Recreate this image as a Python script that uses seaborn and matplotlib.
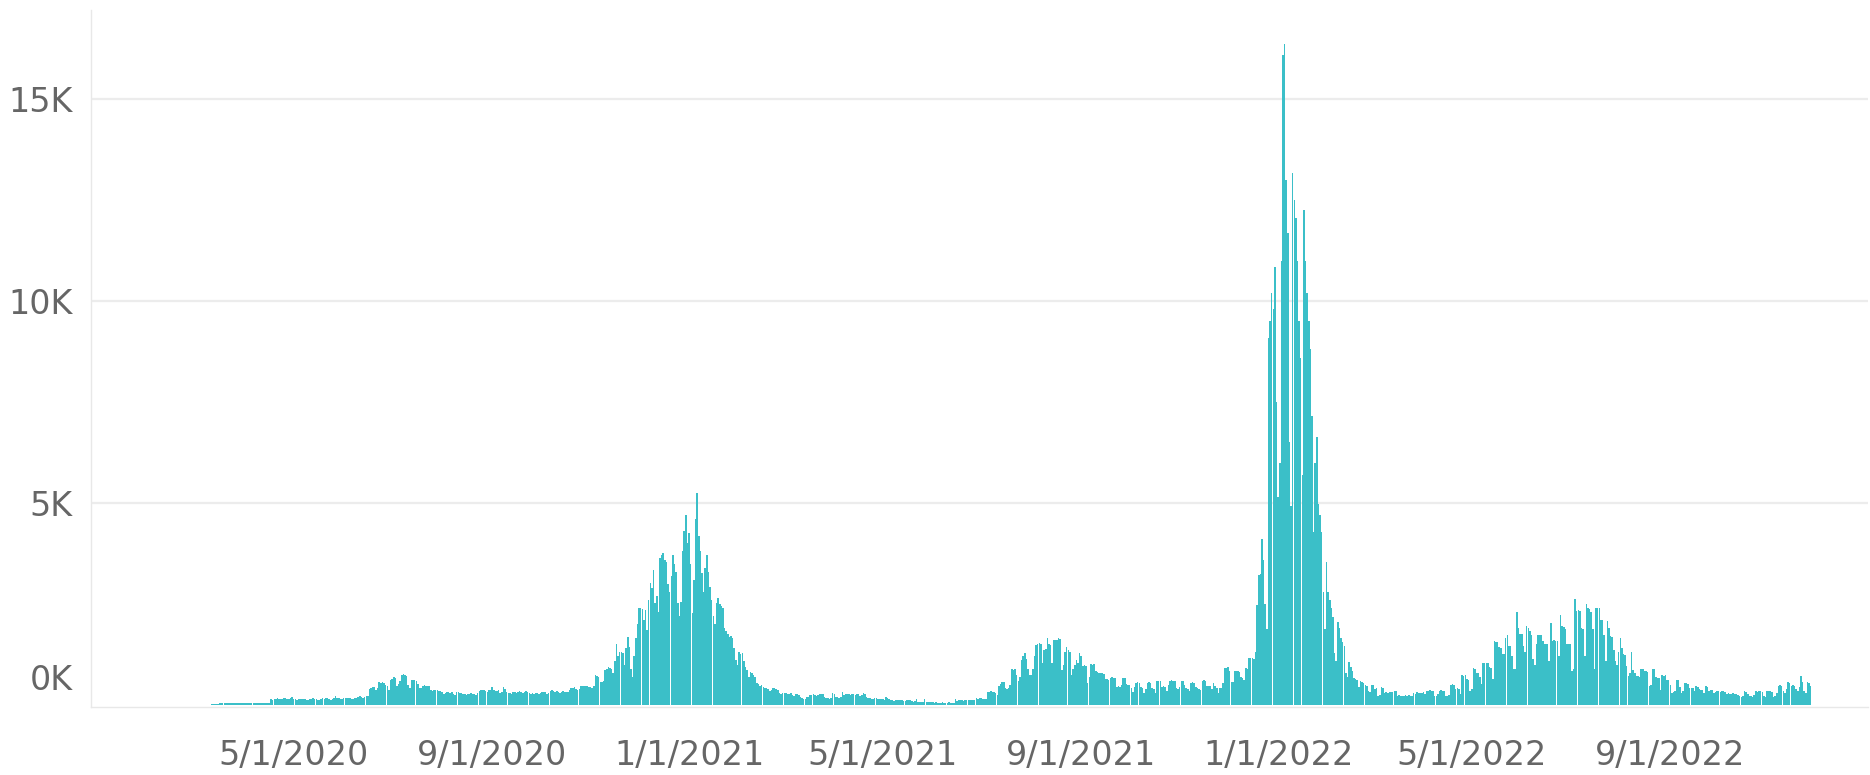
import seaborn as sns
import numpy as np
import matplotlib.pyplot as plt
import pandas as pd
from matplotlib.transforms import ScaledTranslation

# daily cases
mar20 = [20, 25, 30, 35, 30, 40, 45, 40, 50, 45, 40, 50, 55, 50, 45, 55, 50, 45, 50, 55, 50]
apr20 = [50, 55, 50, 45, 50, 55, 50, 50, 45, 55, 50, 55, 50, 45, 50, 60, 150, 130, 160, 150, 170, 160, 150, 140, 175, 165, 160, 150, 170, 200]
may20 = [150, 140, 120, 150, 160, 155, 150, 160, 130, 120, 150, 155, 165, 150, 160, 130, 120, 160, 170, 150, 165, 170, 140, 120, 150, 170, 220, 180, 175, 150, 140]
jun20 = [170, 180, 175, 165, 180, 150, 140, 175, 180, 200, 210, 195, 170, 190, 210, 220, 400, 420, 450, 440, 380, 410, 560, 550, 570, 540, 500, 480, 370, 620]
jul20 = [650, 700, 680, 460, 520, 600, 740, 760, 750, 720, 500, 420, 620, 630, 610, 600, 520, 430, 420, 480, 490, 470, 480, 460, 380, 350, 370, 360, 380, 350, 340]
aug20 = [310, 280, 300, 330, 320, 300, 310, 260, 250, 330, 320, 300, 290, 280, 260, 250, 270, 280, 290, 270, 260, 250, 300, 340, 360, 380, 370, 350, 330, 360, 380]
sep20 = [440, 380, 350, 340, 360, 300, 320, 440, 400, 310, 300, 290, 280, 320, 310, 300, 330, 340, 320, 300, 330, 350, 320, 290, 280, 300, 270, 290, 300, 280]
oct20 = [300, 330, 320, 310, 280, 290, 350, 360, 340, 330, 350, 320, 300, 330, 340, 330, 320, 310, 360, 420, 430, 440, 400, 380, 390, 460, 470, 480, 460, 470, 440]
nov20 = [450, 430, 460, 740, 720, 700, 580, 560, 600, 870, 900, 950, 920, 880, 780, 1100, 1510, 1200, 1300, 1320, 1280, 1000, 1400, 1690, 1440, 900, 685, 1200, 1650, 2000]
dec20 = [2390, 2400, 2380, 2100, 2350, 1860, 2600, 3010, 2900, 3340, 2530, 2700, 2300, 3630, 3700, 3750, 3600, 3550, 3000, 2800, 3200, 3700, 3500, 3300, 2520, 2200, 2560, 3800, 4300, 4700, 4000]
jan21 = [4250, 3500, 2270, 3090, 4600, 5250, 4170, 3800, 3260, 2800, 3400, 3710, 3300, 2930, 2600, 2200, 2000, 2520, 2660, 2500, 2450, 2390, 1900, 1840, 1750, 1690, 1700, 1650, 1400, 1110, 1000]
feb21 = [1320, 1250, 1280, 1100, 950, 870, 700, 820, 780, 740, 700, 540, 520, 480, 500, 450, 410, 420, 400, 350, 380, 410, 420, 400, 380, 290, 280, 300]
mar21 = [290, 300, 280, 260, 290, 250, 230, 260, 270, 250, 200, 180, 140, 160, 190, 200, 250, 240, 260, 250, 230, 240, 270, 260, 280, 200, 170, 165, 160, 170, 290]
apr21 = [280, 200, 190, 180, 200, 330, 250, 270, 260, 270, 240, 260, 270, 250, 270, 260, 230, 240, 290, 280, 200, 170, 165, 160, 150, 165, 170, 160, 140, 150]
may21 = [140, 120, 190, 180, 150, 125, 120, 110, 125, 130, 120, 125, 115, 100, 110, 125, 130, 120, 110, 80, 90, 150, 80, 75, 80, 85, 150, 70, 65, 80, 85]
jun21 = [70, 60, 65, 60, 55, 60, 65, 60, 55, 60, 65, 55, 50, 60, 140, 90, 125, 120, 130, 110, 125, 130, 120, 125, 115, 130, 125, 165, 160, 170]
jul21 = [170, 160, 140, 150, 330, 320, 340, 330, 310, 300, 250, 470, 520, 580, 560, 410, 400, 420, 500, 880, 860, 890, 740, 600, 700, 1110, 1200, 1280, 1150, 900, 740]
aug21 = [740, 900, 1200, 1490, 1500, 1530, 1520, 1030, 1360, 1380, 1650, 1500, 1490, 1030, 1600, 1610, 1620, 1650, 1640, 870, 1000, 1300, 1430, 1350, 1300, 740, 900, 1000, 1110, 1050, 1280]
sep21 = [1200, 970, 980, 960, 540, 700, 1010, 1000, 1010, 830, 820, 800, 780, 790, 770, 640, 650, 620, 680, 690, 670, 680, 450, 460, 440, 500, 680, 670, 520, 500]
oct21 = [500, 420, 330, 450, 550, 560, 540, 450, 410, 290, 400, 550, 560, 540, 410, 400, 300, 600, 590, 600, 450, 460, 440, 350, 500, 600, 610, 590, 600, 410, 400]
nov21 = [450, 600, 590, 500, 410, 400, 350, 550, 560, 540, 450, 410, 400, 380, 600, 610, 590, 480, 470, 460, 400, 540, 480, 410, 300, 420, 410, 540, 910, 920]
dec21 = [930, 830, 580, 560, 830, 840, 830, 820, 700, 680, 620, 910, 900, 1160, 1170, 1160, 1150, 1300, 2480, 3220, 3250, 4100, 3600, 2500, 1890, 9070, 9500, 10200, 9800, 10840, 7500]
jan22 = [5150, 5980, 11000, 16090, 16370, 13000, 11670, 6500, 4930, 13160, 12500, 12060, 11000, 9500, 8580, 5700, 12240, 11000, 10200, 9500, 8800, 7140, 4270, 6000, 6640, 4980, 4700, 4270, 2800, 1890, 3550]
feb22 = [2800, 2610, 2400, 2170, 1280, 1100, 2060, 1900, 1670, 1550, 1450, 780, 700, 1060, 950, 840, 670, 650, 620, 450, 600, 580, 550, 500, 480, 350, 330, 500]
mar22 = [500, 400, 410, 230, 250, 440, 430, 300, 310, 290, 330, 320, 330, 350, 340, 230, 240, 230, 220, 230, 250, 230, 240, 230, 220, 300, 280, 310, 300, 290, 300]
apr22 = [310, 280, 350, 340, 360, 350, 340, 230, 230, 260, 350, 360, 340, 350, 230, 220, 250, 500, 510, 490, 400, 410, 390, 270, 730, 720, 740, 640, 630, 350]
may22 = [400, 910, 900, 790, 800, 700, 520, 1040, 1050, 1030, 1040, 930, 920, 640, 1590, 1570, 1550, 1430, 1420, 1260, 1250, 1670, 1720, 1470, 1460, 1200, 890, 900, 2290, 1900, 1760]
jun22 = [1760, 1470, 1300, 1960, 1900, 1840, 1720, 1140, 1000, 1500, 1730, 1720, 1740, 1590, 1510, 1500, 1520, 1100, 2030, 1590, 1600, 1580, 1590, 1200, 2230, 1960, 1920, 1880, 1510, 1520]
jul22 = [1510, 850, 900, 2620, 2330, 2340, 2320, 1900, 1880, 1200, 2500, 2400, 2380, 2300, 1880, 890, 2400, 2410, 2390, 2110, 2100, 1740, 1080, 2070, 1900, 1700, 1690, 1370, 1080, 1000, 1300]
aug22 = [1660, 1400, 1250, 1240, 960, 710, 800, 1300, 870, 800, 710, 720, 700, 890, 880, 830, 840, 820, 460, 500, 890, 880, 700, 670, 660, 380, 730, 720, 740, 630, 620]
sep22 = [500, 300, 310, 350, 630, 620, 450, 300, 350, 540, 550, 530, 420, 430, 410, 350, 460, 450, 400, 380, 370, 300, 460, 450, 350, 380, 370, 300, 320, 340]
oct22 = [340, 330, 350, 340, 330, 280, 290, 270, 280, 290, 280, 270, 250, 210, 200, 220, 340, 330, 260, 210, 220, 200, 250, 340, 330, 350, 340, 330, 210, 200, 340]
nov22 = [340, 350, 330, 200, 210, 300, 480, 490, 470, 340, 300, 400, 560, 550, 480, 490, 470, 400, 340, 450, 710, 580, 340, 300, 560, 550, 480]

months = [('2020-03-11', mar20), ('2020-04-01', apr20), ('2020-05-01', may20), ('2020-06-01', jun20),
          ('2020-07-01', jul20), ('2020-08-01', aug20), ('2020-09-01', sep20), ('2020-10-01', oct20),
          ('2020-11-01', nov20), ('2020-12-01', dec20), ('2021-01-01', jan21), ('2021-02-01', feb21),
          ('2021-03-01', mar21), ('2021-04-01', apr21), ('2021-05-01', may21), ('2021-06-01', jun21),
          ('2021-07-01', jul21), ('2021-08-01', aug21), ('2021-09-01', sep21), ('2021-10-01', oct21),
          ('2021-11-01', nov21), ('2021-12-01', dec21), ('2022-01-01', jan22), ('2022-02-01', feb22),
          ('2022-03-01', mar22), ('2022-04-01', apr22), ('2022-05-01', may22), ('2022-06-01', jun22),
          ('2022-07-01', jul22), ('2022-08-01', aug22), ('2022-09-01', sep22), ('2022-10-01', oct22),
          ('2022-11-01', nov22)]

df = pd.concat([pd.DataFrame({'date': pd.date_range(s, periods=len(v), freq='D'), 'cases': v})
                for s, v in months], ignore_index=True)
assert df['date'].diff().dropna().eq(pd.Timedelta('1D')).all()

sns.set_style('white')
plt.rcParams['font.family'] = ['DejaVu Sans']
fig = plt.figure(figsize=(18.7, 7.75), dpi=100)
ax = fig.add_axes([91/1870, 1-707/775, (1868-91)/1870, (707-10)/775])

sns.histplot(data=df, x='date', weights='cases', discrete=True, shrink=0.95,
             color='#3bbfc8', alpha=1, linewidth=0, ax=ax)

ax.set_xlim(pd.Timestamp('2019-12-27 10:00'), pd.Timestamp('2023-01-01 12:00'))
ax.set_ylim(-50, 17200)

major = pd.date_range('2020-01-01', '2023-01-01', freq='4MS')
ax.set_xticks(major)
ax.set_xticklabels(['' if (d.month == 1 and d.year in (2020, 2023)) else f'{d.month}/{d.day}/{d.year}'
                    for d in major])
ax.set_xticks(pd.date_range('2020-01-01', '2023-01-01', freq='MS'), minor=True)

# tableau nudges the 0K label up off the baseline
ax.set_yticks([0, 5000, 10000, 15000])
ax.set_yticklabels(['', '5K', '10K', '15K'])
ax.text(0, 0, '0K', ha='right', va='center', fontsize=24, color='#666666',
        transform=ax.get_yaxis_transform() + ScaledTranslation(-13/72, 24/100, fig.dpi_scale_trans))

ax.grid(axis='y', color='#ececec', lw=1.6)
ax.yaxis.get_gridlines()[0].set_visible(False)
ax.set_axisbelow(True)

ax.tick_params(axis='y', length=0, pad=13, labelsize=24, labelcolor='#666666')
ax.tick_params(axis='x', which='major', length=8, width=1, color='#dddddd', pad=15,
               labelsize=24, labelcolor='#666666')
ax.tick_params(axis='x', which='minor', length=2.5, width=1, color='#e6e6e6')
for s in ['top', 'right']:
    ax.spines[s].set_visible(False)
for s in ['left', 'bottom']:
    ax.spines[s].set_color('#e8e8e8')
    ax.spines[s].set_linewidth(1)

ax.set_xlabel('')
ax.set_ylabel('')
fig.savefig('out.png', dpi=100)
